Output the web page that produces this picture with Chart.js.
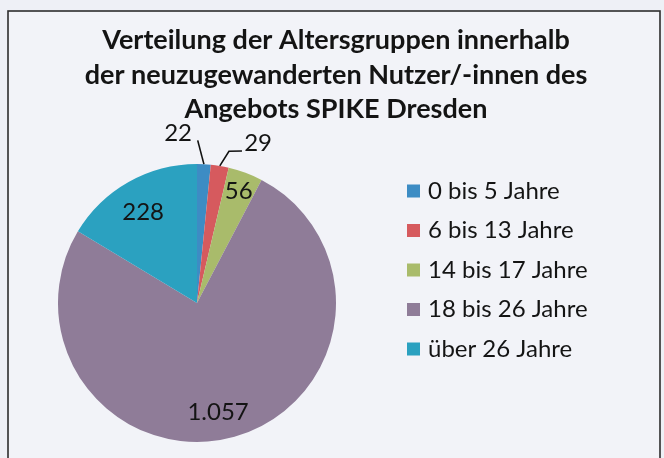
<!DOCTYPE html>
<html>
<head>
<meta charset="utf-8">
<script src="https://cdn.jsdelivr.net/npm/chart.js@4.4.1/dist/chart.umd.min.js"></script>
<style>
  html, body { margin: 0; padding: 0; background: #eef0f6; }
  #wrap { width: 664px; height: 458px; position: relative; }
</style>
</head>
<body>
<div id="wrap"><canvas id="c" width="664" height="458"></canvas></div>
<script>
// ---- data ----
const titleLines = [
  "Verteilung der Altersgruppen innerhalb",
  "der neuzugewanderten Nutzer/-innen des",
  "Angebots SPIKE Dresden"
];
const categories = ["0 bis 5 Jahre", "6 bis 13 Jahre", "14 bis 17 Jahre", "18 bis 26 Jahre", "über 26 Jahre"];
const values = [22, 29, 56, 1057, 228];
const valueLabels = ["22", "29", "56", "1.057", "228"];

// ---- styles ----
const sliceColors = ["#3d8cc4", "#d65a5e", "#a9bb6b", "#8f7c98", "#2ba1c0"];
const FONT = "Lato, 'Open Sans', sans-serif";
const TEXT = "#141414";

// label placement relative to each slice: angle offset (deg) from the slice middle, radius factor
const labelPlacement = [
  { dAng: -9.2, rf: 1.23, align: "center", leader: [[0, 1.0], [-2.6, 1.17]] },
  { dAng: 11.5, rf: 1.23, align: "center", leader: [[0, 1.0], [2.45, 1.116], [7.05, 1.14]] },
  { dAng: 0, rf: 0.86, align: "center" },
  { dAng: 4.7, rf: 0.80, align: "center" },
  { dAng: -1.2, rf: 0.76, align: "center" }
];

function polar(cx, cy, r, angRad) {
  return [cx + r * Math.cos(angRad), cy + r * Math.sin(angRad)];
}

const decor = {
  id: "decor",
  beforeDraw(chart) {
    const ctx = chart.ctx;
    ctx.save();
    ctx.fillStyle = "#eef0f6";
    ctx.fillRect(0, 0, chart.width, chart.height);
    ctx.fillStyle = "#f2f3f8";
    ctx.fillRect(9, 12, 650, 450);
    ctx.strokeStyle = "#2e2e2e";
    ctx.lineWidth = 1.6;
    ctx.strokeRect(8, 11, 652, 470);
    ctx.restore();
  },
  afterDraw(chart) {
    const ctx = chart.ctx;
    ctx.save();
    // title
    ctx.fillStyle = TEXT;
    ctx.font = "bold 27px " + FONT;
    ctx.textAlign = "center";
    ctx.textBaseline = "alphabetic";
    titleLines.forEach((t, i) => ctx.fillText(t, 336, 49 + i * 34.5));

    // data labels
    const meta = chart.getDatasetMeta(0);
    ctx.font = "24px " + FONT;
    meta.data.forEach((arc, i) => {
      const p = arc.getProps(["x", "y", "startAngle", "endAngle", "outerRadius"], true);
      const mid = (p.startAngle + p.endAngle) / 2;
      const pl = labelPlacement[i];
      const R = p.outerRadius;
      if (pl.leader) {
        ctx.strokeStyle = "#111";
        ctx.lineWidth = 1.6;
        ctx.beginPath();
        pl.leader.forEach((pt, k) => {
          const [x, y] = polar(p.x, p.y, R * pt[1], mid + pt[0] * Math.PI / 180);
          if (k === 0) ctx.moveTo(x, y); else ctx.lineTo(x, y);
        });
        ctx.stroke();
      }
      const [tx, ty] = polar(p.x, p.y, R * pl.rf, mid + pl.dAng * Math.PI / 180);
      ctx.fillStyle = TEXT;
      ctx.textAlign = pl.align;
      ctx.textBaseline = "middle";
      ctx.fillText(valueLabels[i], tx, ty);
    });

    // legend
    ctx.font = "24px " + FONT;
    ctx.textAlign = "left";
    ctx.textBaseline = "middle";
    categories.forEach((c, i) => {
      const y = 191 + i * 39.5;
      ctx.fillStyle = sliceColors[i];
      ctx.fillRect(407, y - 6.5, 13, 13);
      ctx.fillStyle = TEXT;
      ctx.fillText(c, 428, y);
    });
    ctx.restore();
  }
};

new Chart(document.getElementById("c"), {
  type: "pie",
  data: {
    labels: categories,
    datasets: [{
      data: values,
      backgroundColor: sliceColors,
      borderWidth: 0
    }]
  },
  options: {
    responsive: false,
    animation: false,
    layout: { padding: { left: 58, right: 328, top: 164, bottom: 16 } },
    plugins: {
      legend: { display: false },
      title: { display: false },
      tooltip: { enabled: false }
    }
  },
  plugins: [decor]
});
</script>
</body>
</html>
